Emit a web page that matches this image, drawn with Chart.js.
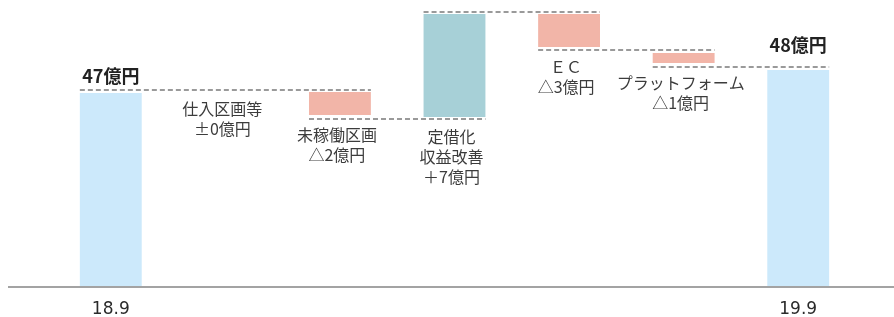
<!DOCTYPE html>
<html><head><meta charset="utf-8">
<script src="https://cdn.jsdelivr.net/npm/chart.js@4"></script>
<style>html,body{margin:0;padding:0;background:#fff}#wrap{width:894px;height:317px;position:relative}</style>
</head><body><div id="wrap"><canvas id="c"></canvas></div>
<script>
const categories = ['18.9', '仕入区画等', '未稼働区画', '定借化収益改善', 'ＥＣ', 'プラットフォーム', '19.9'];
const tickLabels = ['18.9', '', '', '', '', '', '19.9'];
const barLow  = [0,    null, 43,    42.5,  60,    56,   0];
const barHigh = [48.5, null, 48.75, 68.25, 68.25, 58.5, 54.25];
const barKinds = ['total', 'none', 'down', 'up', 'down', 'down', 'total'];
const connectorLevels = [49.25, 42, 68.75, 59.25, 55];
const connectorFrom = [0, 2, 3, 4, 5];
const connectorTo   = [2, 3, 4, 5, 6];
const totalLabels = ['47億円', '', '', '', '', '', '48億円'];
const deltaLabels = [[], ['仕入区画等', '±0億円'], ['未稼働区画', '△2億円'], ['定借化', '収益改善', '＋7億円'], ['ＥＣ', '△3億円'], ['プラットフォーム', '△1億円'], []];

const kindColors = { total: '#cce9fb', up: '#a7d0d7', down: '#f2b5a8', none: 'rgba(0,0,0,0)' };

const overlay = {
  id: 'overlay',
  afterDatasetsDraw(chart) {
    const ctx = chart.ctx;
    const y = chart.scales.y;
    const meta = chart.getDatasetMeta(0);
    const x = chart.scales.x;
    const half = meta.data[0].width / 2;
    ctx.save();
    // baseline
    ctx.strokeStyle = '#a3a3a3';
    ctx.lineWidth = 2;
    ctx.beginPath();
    const by = Math.round(y.getPixelForValue(0)) ;
    ctx.moveTo(8, by); ctx.lineTo(chart.width, by); ctx.stroke();
    // connectors
    ctx.strokeStyle = '#9a9a9a';
    ctx.setLineDash([5, 3]);
    connectorLevels.forEach((lv, i) => {
      const py = y.getPixelForValue(lv);
      ctx.beginPath();
      ctx.moveTo(x.getPixelForValue(connectorFrom[i]) - half, py);
      ctx.lineTo(x.getPixelForValue(connectorTo[i]) + half, py);
      ctx.stroke();
    });
    ctx.setLineDash([]);
    // total labels
    ctx.fillStyle = '#222';
    ctx.font = 'bold 18px "Noto Sans CJK JP", sans-serif';
    ctx.textAlign = 'center';
    ctx.textBaseline = 'middle';
    totalLabels.forEach((t, i) => {
      if (!t) return;
      const cx = x.getPixelForValue(i);
      const lv = i === 0 ? barHigh[i] : connectorLevels[connectorLevels.length - 1];
      const off = i === 0 ? 17 : 22;
      ctx.fillText(t, cx, y.getPixelForValue(lv) - off);
    });
    // delta labels
    ctx.fillStyle = '#3c3c3c';
    ctx.font = '16px "Noto Sans CJK JP", sans-serif';
    deltaLabels.forEach((lines, i) => {
      if (!lines.length) return;
      const cx = x.getPixelForValue(i) - 3;
      const anchor = barLow[i] !== null ? barLow[i] : connectorLevels[0];
      const top = y.getPixelForValue(anchor) + (barLow[i] !== null ? 20 : 19);
      lines.forEach((s, k) => ctx.fillText(s, cx, top + k * 20));
    });
    ctx.restore();
  }
};

new Chart(document.getElementById('c'), {
  type: 'bar',
  data: {
    labels: tickLabels,
    datasets: [{
      data: barLow.map((lo, i) => lo === null ? null : [lo, barHigh[i]]),
      backgroundColor: barKinds.map(k => kindColors[k]),
      borderWidth: 0,
      categoryPercentage: 1,
      barPercentage: 0.54
    }]
  },
  options: {
    responsive: true,
    maintainAspectRatio: false,
    animation: false,
    layout: { padding: { left: 53.5, right: 38.5, top: 7, bottom: 0 } },
    plugins: { legend: { display: false }, tooltip: { enabled: false } },
    scales: {
      x: {
        grid: { display: false, drawTicks: false },
        border: { display: false },
        afterFit: s => { s.height = 30; },
        ticks: { color: '#2a2a2a', font: { family: 'DejaVu Sans', size: 17 }, padding: 12, maxRotation: 0, autoSkip: false }
      },
      y: { display: false, min: 0, max: 70 }
    }
  },
  plugins: [overlay]
});
</script></body></html>
